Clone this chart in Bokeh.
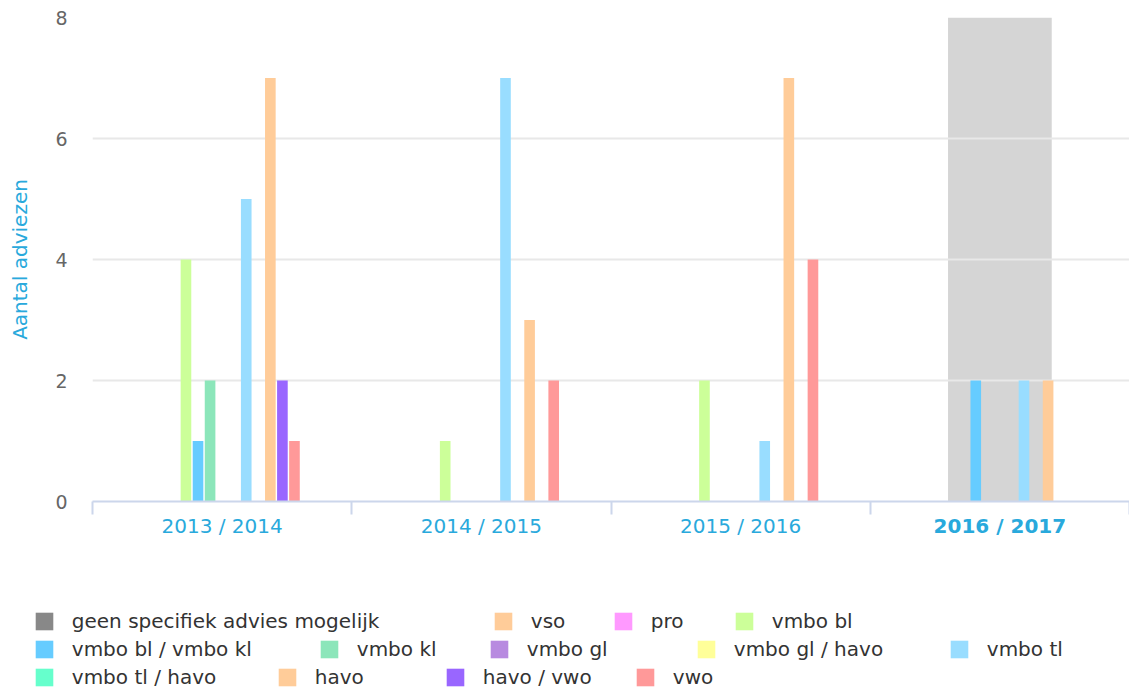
from bokeh.plotting import figure
from bokeh.layouts import column
from bokeh.models import (Range1d, FixedTicker, ColumnDataSource, Legend, LegendItem,
                          BoxAnnotation)
from bokeh.core.properties import value
from bokeh.transform import dodge
from bokeh.embed import file_html
from bokeh.resources import INLINE

# ---------------- data ----------------
years = ["2013 / 2014", "2014 / 2015", "2015 / 2016", "2016 / 2017"]
highlight_year = "2016 / 2017"

series_names = ["geen specifiek advies mogelijk", "vso", "pro", "vmbo bl",
                "vmbo bl / vmbo kl", "vmbo kl", "vmbo gl", "vmbo gl / havo",
                "vmbo tl", "vmbo tl / havo", "havo", "havo / vwo", "vwo"]

geen = [0, 0, 0, 0]
vso = [0, 0, 0, 0]
pro = [0, 0, 0, 0]
vmbo_bl = [4, 1, 2, 0]
vmbo_bl_kl = [1, 0, 0, 2]
vmbo_kl = [2, 0, 0, 0]
vmbo_gl = [0, 0, 0, 0]
vmbo_gl_havo = [0, 0, 0, 0]
vmbo_tl = [5, 7, 1, 2]
vmbo_tl_havo = [0, 0, 0, 0]
havo = [7, 3, 7, 2]
havo_vwo = [2, 0, 0, 0]
vwo = [1, 2, 4, 0]

series_values = [geen, vso, pro, vmbo_bl, vmbo_bl_kl, vmbo_kl, vmbo_gl,
                 vmbo_gl_havo, vmbo_tl, vmbo_tl_havo, havo, havo_vwo, vwo]

y_ticks = [0, 2, 4, 6, 8]

# ---------------- styles / layout ----------------
series_colors = ["#888888", "#ffcc99", "#ff99ff", "#ccff99", "#66ccff", "#8ce6ba",
                 "#b88ae0", "#ffff99", "#99ddff", "#66ffcc", "#ffcc99", "#9966ff", "#ff9999"]
BLUE = "#29a9dc"
FONT = "DejaVu Sans"

W, H = 1129, 693
FRAME_LEFT, FRAME_TOP, FRAME_BOTTOM = 92, 17, 501
H1 = 515                      # main figure height (frame + axis line / ticks)
H2 = H - H1                   # figure below: category labels + legend

# legend layout (screen px): rows of series indices, symbol left x, row centre y
legend_rows = [[0, 1, 2, 3], [4, 5, 6, 7, 8], [9, 10, 11, 12]]
legend_row_x = [[35, 494, 614, 735], [35, 320, 490, 697, 950], [35, 278, 446, 636]]
legend_row_y = [621, 649, 677]
cat_label_y = 525             # screen y of category labels
GLYPH = 22                    # legend glyph box (drawn at 80 % -> ~18 px swatch)

n_cat = len(years)

# ---------------- main chart ----------------
p = figure(width=W, height=H1, output_backend="svg", toolbar_location=None,
           x_range=Range1d(0, n_cat), y_range=Range1d(0, 8),
           min_border_left=FRAME_LEFT, min_border_top=FRAME_TOP, min_border_right=0,
           min_border_bottom=H1 - FRAME_BOTTOM,
           outline_line_color=None, background_fill_color="white")
p.frame_align = False

hi = years.index(highlight_year)
band = BoxAnnotation(left=hi + 0.3, right=hi + 0.7, bottom=0, top=8,
                     fill_color="#d5d5d5", fill_alpha=1.0, line_color=None, level="image")
p.add_layout(band)

x_centers = [i + 0.5 for i in range(n_cat)]
n = len(series_names)
step = 0.0465
for i, (name, vals, col) in enumerate(zip(series_names, series_values, series_colors)):
    src = ColumnDataSource(dict(x=x_centers, top=vals))
    p.vbar(x=dodge("x", (i - (n - 1) / 2) * step, range=p.x_range), top="top",
           width=0.041, bottom=0, source=src, fill_color=col, line_color=None)

p.xgrid.visible = False
p.ygrid.grid_line_color = "#e8e8e8"
p.ygrid.grid_line_width = 2
p.ygrid.ticker = FixedTicker(ticks=y_ticks)

yax = p.yaxis[0]
yax.ticker = FixedTicker(ticks=y_ticks)
yax.axis_line_color = None
yax.major_tick_line_color = None
yax.minor_tick_line_color = None
yax.major_tick_out = 0
yax.major_label_standoff = 25
yax.major_label_text_font = FONT
yax.major_label_text_font_size = "19px"
yax.major_label_text_color = "#666666"
yax.axis_label = "Aantal adviezen"
yax.axis_label_text_font = FONT
yax.axis_label_text_font_size = "20px"
yax.axis_label_text_font_style = "normal"
yax.axis_label_text_color = BLUE
yax.axis_label_standoff = 20

xax = p.xaxis[0]
xax.ticker = FixedTicker(ticks=[], minor_ticks=list(range(n_cat + 1)))
xax.axis_line_color = "#ccd6eb"
xax.axis_line_width = 2
xax.major_tick_line_color = None
xax.minor_tick_line_color = "#ccd6eb"
xax.minor_tick_line_width = 2
xax.minor_tick_out = 13
xax.minor_tick_in = 0

# ---------------- labels + legend strip ----------------
unit_px = (W - FRAME_LEFT) / n_cat
p2 = figure(width=W, height=H2, output_backend="svg", toolbar_location=None,
            x_range=Range1d(-FRAME_LEFT / unit_px, n_cat), y_range=Range1d(0, H2),
            x_axis_type=None, y_axis_type=None,
            min_border_left=0, min_border_right=0, min_border_top=0, min_border_bottom=0,
            outline_line_color=None, background_fill_color="white")
p2.frame_align = False
p2.xgrid.visible = False
p2.ygrid.visible = False

label_v = H - cat_label_y
norm_src = ColumnDataSource(dict(x=[x_centers[i] for i, y in enumerate(years) if y != highlight_year],
                                 text=[y for y in years if y != highlight_year]))
bold_src = ColumnDataSource(dict(x=[x_centers[hi]], text=[highlight_year]))
p2.text(x="x", y=label_v, text="text", source=norm_src, text_align="center",
        text_baseline="middle", text_font=value(FONT), text_font_size="20px",
        text_color=BLUE)
p2.text(x="x", y=label_v, text="text", source=bold_src, text_align="center",
        text_baseline="middle", text_font=value(FONT), text_font_size="20px",
        text_font_style="bold", text_color=BLUE)

# stand-in renderers (zero-height, off-range) carrying each series' colour for the legend
legend_renderers = []
for col in series_colors:
    r = p2.vbar(x=[-100], top=[0], bottom=[0], width=0.04, fill_color=col, line_color=None)
    legend_renderers.append(r)

inset = GLYPH * 0.1
for row, xs, yc in zip(legend_rows, legend_row_x, legend_row_y):
    for idx, sx in zip(row, xs):
        lg = Legend(items=[LegendItem(label=series_names[idx], renderers=[legend_renderers[idx]])],
                    location=(sx - inset, H - (yc + 11.5)),
                    orientation="horizontal", padding=0, margin=0, spacing=0,
                    glyph_width=GLYPH, glyph_height=GLYPH, label_standoff=17, label_height=18,
                    label_text_font=FONT, label_text_font_size="20px",
                    label_text_color="#333333", background_fill_alpha=0,
                    border_line_color=None)
        p2.add_layout(lg)

layout = column(p, p2, spacing=0)
open("out.html", "w").write(file_html(layout, INLINE))
